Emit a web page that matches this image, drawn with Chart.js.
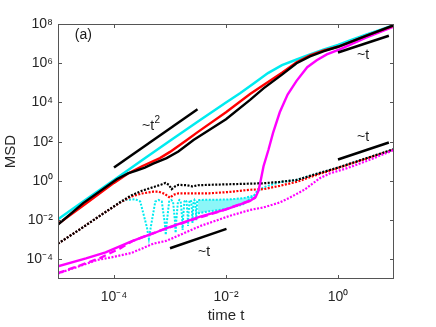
<!DOCTYPE html>
<html>
<head>
<meta charset="utf-8">
<script src="https://cdn.jsdelivr.net/npm/chart.js@4.4.1/dist/chart.umd.min.js"></script>
<style>
  html, body { margin: 0; padding: 0; background: #fff; }
  #wrap { width: 436px; height: 327px; }
</style>
</head>
<body>
<div id="wrap"><canvas id="msdChart" width="436" height="327"></canvas></div>
<script>
// axis ticks
const xTickValues = [1e-4, 1e-2, 1];
const xTickLabels = ['10⁻⁴', '10⁻²', '10⁰'];
const yTickValues = [1e-4, 1e-2, 1, 1e2, 1e4, 1e6, 1e8];
const yTickLabels = ['10⁻⁴', '10⁻²', '10⁰', '10²', '10⁴', '10⁶', '10⁸'];

// solid curves (upper group)
const cyanSolidT = [1e-5, 3.16e-5, 1e-4, 3.16e-4, 1e-3, 3.16e-3, 1e-2, 1.78e-2, 3.16e-2, 5.62e-2, 0.1, 0.178, 0.316, 0.562, 1, 1.78, 3.16, 5.62, 10];
const cyanSolidMSD = [1.12e-2, 0.112, 1.12, 11.2, 112, 1.07e3, 1e4, 2.95e4, 9.55e4, 3.16e5, 7.94e5, 1.51e6, 2.82e6, 5.01e6, 8.51e6, 1.58e7, 2.82e7, 5.01e7, 8.91e7];

const redSolidT = [1e-5, 3.16e-5, 1e-4, 1.78e-4, 3.16e-4, 6.61e-4, 1e-3, 2e-3, 3.16e-3, 1e-2, 2.69e-2, 4.68e-2, 0.1, 0.182, 0.316, 0.562, 1, 3.16, 10];
const redSolidMSD = [6.31e-3, 7.08e-2, 0.794, 2.4, 5.62, 14.5, 30.2, 123, 316, 3.16e3, 2.69e4, 7.76e4, 3.31e5, 1.12e6, 2.51e6, 4.47e6, 6.92e6, 2.51e7, 8.51e7];

const blackSolidT = [1e-5, 2.82e-5, 1.12e-4, 1.78e-4, 2.51e-4, 3.55e-4, 5.01e-4, 8.71e-4, 1.41e-3, 2.63e-3, 5.01e-3, 1e-2, 2.69e-2, 4.68e-2, 0.1, 0.182, 0.316, 0.562, 1, 3.16, 10];
const blackSolidMSD = [6.03e-3, 7.41e-2, 1.23, 2.4, 3.31, 4.79, 7.59, 14.5, 31.6, 123, 398, 1.41e3, 1.35e4, 5.25e4, 2.63e5, 1e6, 2.24e6, 4.17e6, 6.92e6, 2.51e7, 8.71e7];

const magentaSolidT = [1e-5, 3.16e-5, 7.08e-5, 2e-4, 3.16e-4, 5.01e-4, 8.71e-4, 3.47e-3, 1e-2, 2.69e-2, 3.39e-2, 3.8e-2, 4.07e-2, 4.68e-2, 5.75e-2, 6.92e-2, 9.12e-2, 0.126, 0.182, 0.282, 0.417, 0.631, 1.1, 3.16, 10];
const magentaSolidMSD = [4.47e-5, 1.12e-4, 2.29e-4, 7.94e-4, 1.32e-3, 2.09e-3, 3.98e-3, 1.51e-2, 3.55e-2, 9.55e-2, 0.151, 0.316, 0.759, 5.62, 39.8, 282, 3.16e3, 2.51e4, 1.26e5, 6.31e5, 1.41e6, 2.82e6, 5.25e6, 2e7, 7.59e7];

const magentaDashedT = [1e-5, 2.51e-5, 5.62e-5, 1.26e-4, 2.19e-4, 4.37e-4, 8.71e-4, 3.47e-3, 7.76e-3, 2.69e-2, 3.39e-2];
const magentaDashedMSD = [2e-5, 5.01e-5, 1.17e-4, 3.55e-4, 8.91e-4, 1.91e-3, 3.8e-3, 1.41e-2, 2.75e-2, 0.1, 0.145];

// dotted curves (lower group)
const magentaDottedT = [1e-5, 2.51e-5, 5.01e-5, 1e-4, 2e-4, 3.16e-4, 5.01e-4, 8.71e-4, 3.47e-3, 1.17e-2, 2.69e-2, 4.68e-2, 9.12e-2, 0.138, 0.251, 0.479, 0.724, 1.45, 3.16, 10];
const magentaDottedMSD = [1.91e-5, 4.68e-5, 9.33e-5, 1.35e-4, 2.09e-4, 3.55e-4, 6.31e-4, 8.91e-4, 5.01e-3, 1.66e-2, 3.31e-2, 4.47e-2, 7.94e-2, 0.141, 0.355, 1.41, 2.45, 4.47, 10, 38];

const blackDottedT = [1e-5, 2.51e-5, 6.92e-5, 1.26e-4, 2e-4, 3.16e-4, 5.01e-4, 7.08e-4, 8.32e-4, 9.55e-4, 1.07e-3, 1.23e-3, 1.41e-3, 2e-3, 2.51e-3, 3.16e-3, 5.01e-3, 1.17e-2, 4.68e-2, 9.12e-2, 0.182, 0.363, 1, 3.16, 10];
const blackDottedMSD = [6.31e-4, 3.55e-3, 2.51e-2, 7.94e-2, 0.178, 0.316, 0.479, 0.661, 0.794, 0.631, 0.38, 0.525, 0.631, 0.603, 0.525, 0.603, 0.631, 0.676, 0.759, 0.891, 1.12, 2.04, 4.79, 14.1, 41.7];

const redDottedT = [1e-5, 2.51e-5, 6.92e-5, 1.26e-4, 2e-4, 3.16e-4, 5.01e-4, 6.31e-4, 7.94e-4, 1e-3, 1.17e-3, 1.41e-3, 5.01e-3, 1.17e-2, 2.69e-2, 4.68e-2, 9.12e-2, 0.182, 0.363, 1, 3.16, 10];
const redDottedMSD = [6.31e-4, 3.55e-3, 2.51e-2, 7.59e-2, 0.158, 0.229, 0.282, 0.282, 0.224, 0.138, 0.2, 0.234, 0.234, 0.275, 0.355, 0.38, 0.562, 0.891, 1.78, 4.57, 13.5, 39.8];

// cyan dotted: ringing dips, then envelope, then late rise
const cyanDottedT = [1e-5, 2.51e-5, 6.92e-5, 1.26e-4, 1.58e-4, 2.4e-4,
  2.94e-4, 3.86e-4, 4.2e-4, 4.54e-4, 5.46e-4, 6.3e-4,
  7.14e-4, 8.06e-4, 8.4e-4, 8.74e-4, 9.66e-4, 1.05e-3,
  1.134e-3, 1.226e-3, 1.26e-3, 1.294e-3, 1.386e-3, 1.47e-3,
  1.554e-3, 1.646e-3, 1.68e-3, 1.714e-3, 1.806e-3, 1.89e-3,
  1.974e-3, 2.066e-3, 2.1e-3, 2.134e-3, 2.226e-3, 2.31e-3,
  2.394e-3, 2.486e-3, 2.52e-3, 2.554e-3, 2.646e-3, 2.73e-3,
  2.814e-3, 2.906e-3, 2.94e-3, 2.974e-3, 3.066e-3, 3.15e-3,
  5.01e-3, 1e-2, 2e-2, 3.16e-2, 3.55e-2, 4.68e-2, 6.31e-2, 9.12e-2, 0.182, 0.363, 1, 3.16, 10];
const cyanDottedMSD = [6.31e-4, 3.55e-3, 2.51e-2, 7.59e-2, 0.107, 0.117,
  8.91e-2, 4.47e-3, 1.12e-3, 4.47e-3, 8.91e-2, 0.107,
  8.91e-2, 7.08e-3, 1.78e-3, 7.08e-3, 8.91e-2, 0.107,
  8.91e-2, 8.91e-3, 2.24e-3, 8.91e-3, 8.91e-2, 0.107,
  8.91e-2, 1.26e-2, 3.16e-3, 1.26e-2, 8.91e-2, 0.107,
  8.91e-2, 1.78e-2, 5.01e-3, 1.78e-2, 8.91e-2, 0.107,
  8.91e-2, 2.24e-2, 7.08e-3, 2.24e-2, 8.91e-2, 0.107,
  8.91e-2, 2.82e-2, 1e-2, 2.82e-2, 8.91e-2, 0.107,
  0.11, 0.112, 0.13, 0.178, 0.288, 0.468, 0.63, 0.85, 1.12, 2.04, 4.79, 14.1, 41.7];

// envelope of the fast oscillations
const cyanBandT = [3.15e-3, 5.01e-3, 1e-2, 2e-2, 3.16e-2];
const cyanBandTop = [0.107, 0.11, 0.112, 0.13, 0.178];
const cyanBandBottom = [2.24e-2, 2.82e-2, 3.72e-2, 6.31e-2, 0.178];

// power-law guide lines
const guideT2T = [1e-4, 3.1e-3];
const guideT2MSD = [4.8, 4.5e3];
const guideUpperT = [1, 8.1];
const guideUpperMSD = [3.5e6, 2.5e7];
const guideMidT = [1, 8.1];
const guideMidMSD = [12.3, 91];
const guideLowT = [1e-3, 1.02e-2];
const guideLowMSD = [3.7e-4, 3.6e-3];

const labelNotes = [
  { text: '(a)', t: 2e-5, msd: 1.7e7 },
  { text: '~t', sup: '2', t: 3.16e-4, msd: 400 },
  { text: '~t', t: 2.19, msd: 1.66e6 },
  { text: '~t', t: 2.19, msd: 110 },
  { text: '~t', t: 3.16e-3, msd: 1.51e-4 }
];

const CYAN = 'rgb(0,235,240)';
const RED = '#ff0000';
const MAGENTA = '#ff00ff';
const BLACK = '#000000';
const DOT = [2, 1.5];

function pts(ts, ys) {
  return ts.map(function (t, i) { return { x: t, y: ys[i] }; });
}

function line(ts, ys, color, width, dash, extra) {
  return Object.assign({
    data: pts(ts, ys),
    borderColor: color,
    backgroundColor: color,
    borderWidth: width,
    borderDash: dash || [],
    pointRadius: 0,
    fill: false,
    tension: 0
  }, extra || {});
}

// listed from back to front
const layers = [
  line(cyanBandT, cyanBandTop, CYAN, 0, [], {}),
  line(cyanBandT, cyanBandBottom, CYAN, 2, DOT, { fill: '-1', backgroundColor: 'rgba(0,235,240,0.45)' }),
  line(cyanDottedT, cyanDottedMSD, CYAN, 2, DOT),
  line(redDottedT, redDottedMSD, RED, 2.2, DOT),
  line(blackDottedT, blackDottedMSD, BLACK, 2.2, DOT),
  line(magentaDottedT, magentaDottedMSD, MAGENTA, 2.2, DOT),
  line(magentaDashedT, magentaDashedMSD, MAGENTA, 2.4, [7, 4]),
  line(magentaSolidT, magentaSolidMSD, MAGENTA, 2.4),
  line(cyanSolidT, cyanSolidMSD, CYAN, 2.5),
  line(redSolidT, redSolidMSD, RED, 2.4),
  line(blackSolidT, blackSolidMSD, BLACK, 2.4),
  line(guideT2T, guideT2MSD, BLACK, 2.5),
  line(guideUpperT, guideUpperMSD, BLACK, 2.5),
  line(guideMidT, guideMidMSD, BLACK, 2.5),
  line(guideLowT, guideLowMSD, BLACK, 2.5)
];
layers.forEach(function (ds, i) { ds.order = layers.length - i; });

// MATLAB style box with inward ticks
const axesBox = {
  id: 'axesBox',
  afterDatasetsDraw: function (chart) {
    var ctx = chart.ctx, a = chart.chartArea;
    var xs = chart.scales.x, ys = chart.scales.y;
    var L = Math.round(a.left) + 0.5, R = Math.round(a.right) - 0.5;
    var T = Math.round(a.top) + 0.5, B = Math.round(a.bottom) - 0.5;
    ctx.save();
    ctx.strokeStyle = '#555555';
    ctx.lineWidth = 1;
    ctx.strokeRect(L, T, R - L, B - T);
    ctx.beginPath();
    xTickValues.forEach(function (v) {
      var px = Math.round(xs.getPixelForValue(v)) + 0.5;
      ctx.moveTo(px, B); ctx.lineTo(px, B - 3.5);
      ctx.moveTo(px, T); ctx.lineTo(px, T + 3.5);
    });
    yTickValues.forEach(function (v) {
      var py = Math.round(ys.getPixelForValue(v)) + 0.5;
      ctx.moveTo(L, py); ctx.lineTo(L + 3.5, py);
      ctx.moveTo(R, py); ctx.lineTo(R - 3.5, py);
    });
    ctx.stroke();
    ctx.restore();
  }
};

const notes = {
  id: 'notes',
  afterDraw: function (chart) {
    var ctx = chart.ctx;
    var xs = chart.scales.x, ys = chart.scales.y;
    ctx.save();
    ctx.fillStyle = '#1a1a1a';
    ctx.textBaseline = 'alphabetic';
    ctx.textAlign = 'left';
    labelNotes.forEach(function (n) {
      var px = xs.getPixelForValue(n.t), py = ys.getPixelForValue(n.msd);
      ctx.font = '14px "Liberation Sans", Arial, sans-serif';
      ctx.fillText(n.text, px, py);
      if (n.sup) {
        var w = ctx.measureText(n.text).width;
        ctx.font = '10px "Liberation Sans", Arial, sans-serif';
        ctx.fillText(n.sup, px + w + 0.5, py - 7);
      }
    });
    ctx.restore();
  }
};

Chart.defaults.font.family = '"Liberation Sans", Arial, Helvetica, sans-serif';
Chart.defaults.color = '#262626';

new Chart(document.getElementById('msdChart'), {
  type: 'line',
  data: { datasets: layers },
  options: {
    responsive: false,
    animation: false,
    devicePixelRatio: 1,
    layout: { padding: { top: 24, right: 42, left: 0, bottom: 0 } },
    plugins: { legend: { display: false }, tooltip: { enabled: false } },
    scales: {
      x: {
        type: 'logarithmic',
        min: 1e-5,
        max: 10,
        grid: { display: false, drawTicks: false },
        border: { display: false },
        afterBuildTicks: function (s) { s.ticks = xTickValues.map(function (v) { return { value: v }; }); },
        afterFit: function (s) { s.height = 48; },
        ticks: {
          autoSkip: false, maxRotation: 0, padding: 10,
          font: { size: 14 },
          callback: function (v, i) { return xTickLabels[i]; }
        },
        title: { display: true, text: 'time t', font: { size: 15 }, padding: { top: 0, bottom: 2 } }
      },
      y: {
        type: 'logarithmic',
        min: 1e-5,
        max: 1e8,
        grid: { display: false, drawTicks: false },
        border: { display: false },
        afterBuildTicks: function (s) { s.ticks = yTickValues.map(function (v) { return { value: v }; }); },
        afterFit: function (s) { s.width = 58; },
        ticks: {
          autoSkip: false, padding: 5,
          font: { size: 14 },
          callback: function (v, i) { return yTickLabels[i]; }
        },
        title: { display: true, text: 'MSD', font: { size: 15 }, padding: { top: 2, bottom: 0 } }
      }
    }
  },
  plugins: [axesBox, notes]
});
</script>
</body>
</html>
